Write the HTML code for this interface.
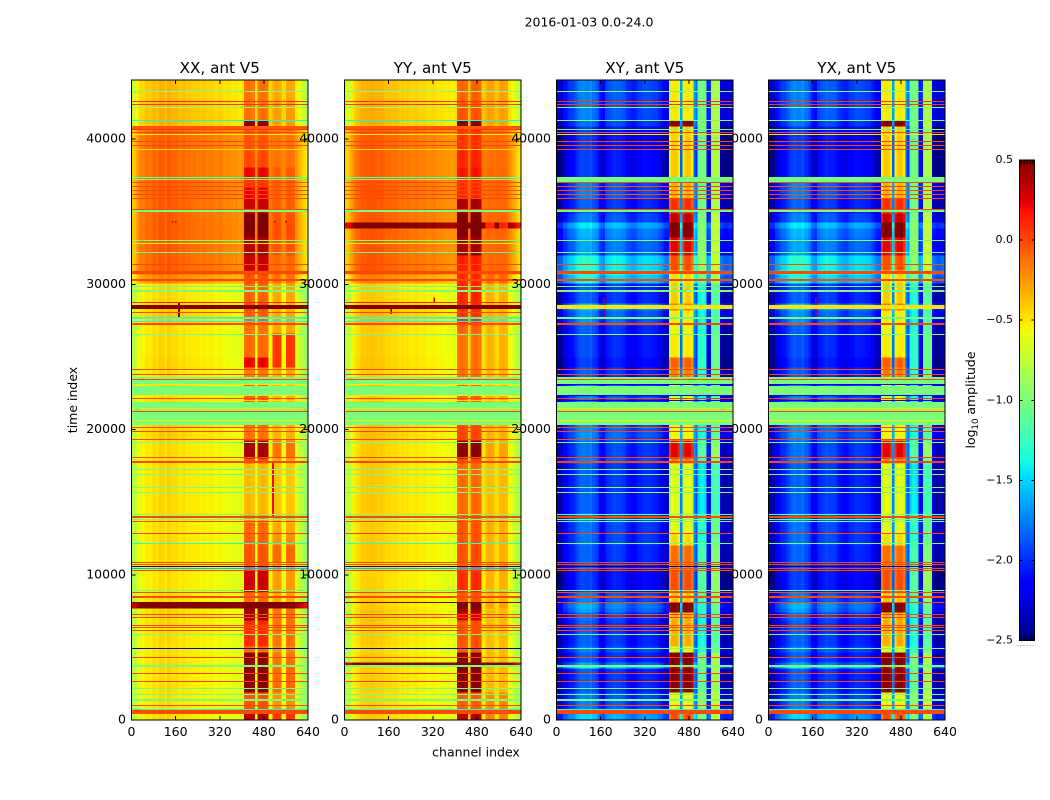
<!DOCTYPE html>
<html>
<head>
<meta charset="utf-8">
<title>2016-01-03 0.0-24.0 V5 waterfall</title>
<style>
html,body{margin:0;padding:0;background:#fff;}
svg{display:block;}
text{font-family:"DejaVu Sans","Liberation Sans",sans-serif;fill:#000;}
</style>
</head>
<body>
<svg id="chart" xmlns="http://www.w3.org/2000/svg" width="1050" height="800" viewBox="0 0 1050 800">
<rect width="1050" height="800" fill="#fff"></rect>
<text x="589" y="26.5" font-size="12.5" text-anchor="middle">2016-01-03 0.0-24.0</text>
<text x="476" y="756.5" font-size="12.5" text-anchor="middle">channel index</text>
<text transform="translate(77,400) rotate(-90)" font-size="12.5" text-anchor="middle">time index</text>
<text transform="translate(975,400) rotate(-90)" font-size="12.5" text-anchor="middle">log<tspan font-size="8.5" dy="3">10</tspan><tspan dy="-3"> amplitude</tspan></text>
</svg>
<script>
// ---- axis data ----
const xTicks = [0, 160, 320, 480, 640];
const yTicks = [0, 10000, 20000, 30000, 40000];
const cbarTicks = [0.5, 0, -0.5, -1, -1.5, -2, -2.5];
const cbarTickLabels = ["0.5", "0.0", "\u22120.5", "\u22121.0", "\u22121.5", "\u22122.0", "\u22122.5"];

// ---- channel categories (80 bins, 8 channels each); 0 quiet, 1 strong band, 2 side band ----
const channelZones = [
0,0,0,0,0,0,0,0,0,0,
0,0,0,0,0,0,0,0,0,0,
0,0,0,0,0,0,0,0,0,0,
0,0,0,0,0,0,0,0,0,0,
0,0,0,0,0,0,0,0,0,0,
0,1,1,1,1,1,0,1,1,1,
1,1,0,0,2,2,2,2,0,0,
2,2,2,2,0,0,0,0,0,0];

// ---- per-channel offsets in log10 amplitude ----
const xxChannelOffsets = [
-0.32,-0.3,-0.22,-0.12,-0.06,-0.1,-0.04,-0.02,-0.05,-0.01,
0.02,-0.03,0.03,0.04,0.04,-0.02,0.05,0.05,0.01,0,
0.02,-0.03,-0.02,0,-0.02,-0.04,-0.02,-0.05,-0.03,-0.05,
-0.05,-0.07,-0.04,-0.06,-0.08,-0.06,-0.05,-0.08,-0.1,-0.08,
-0.06,-0.1,-0.12,-0.1,-0.12,-0.12,-0.14,-0.12,-0.15,-0.15,
-0.12,0,0.03,0.03,0,-0.02,-0.1,0,0.03,0.04,
0.02,0,-0.1,-0.05,0,0.02,0.02,0,-0.1,-0.1,
0.02,0.03,0.02,0,-0.15,-0.2,-0.26,-0.32,-0.38,-0.45];
const yyChannelOffsets = [
-0.34,-0.32,-0.26,-0.16,-0.08,-0.04,-0.02,0.02,0.04,0.03,
0.05,0.04,0.06,0.05,0.03,0.02,0.04,0.03,0,-0.01,
0,-0.03,-0.02,-0.01,-0.04,-0.05,-0.03,-0.06,-0.04,-0.06,
-0.07,-0.08,-0.05,-0.07,-0.09,-0.08,-0.07,-0.1,-0.11,-0.09,
-0.08,-0.11,-0.13,-0.11,-0.13,-0.14,-0.15,-0.14,-0.16,-0.16,
-0.13,0,0.03,0.03,0,-0.02,-0.02,0,0.03,0.04,
0.02,0,-0.05,-0.05,0,0.02,0.02,0,-0.02,0,
0.02,0.03,0.02,0,-0.1,-0.15,-0.2,-0.28,-0.36,-0.42];
const xyChannelOffsets = [
-0.3,-0.3,-0.28,-0.1,-0.08,0,0.05,0.05,0.12,0.2,
0.25,0.28,0.28,0.25,0.25,0.3,0.22,0.2,0.15,-0.02,
-0.1,-0.12,0.05,0.1,0.12,0.15,0.18,0.15,0.15,0.15,
0.12,0.05,0,-0.02,-0.05,-0.05,0,0.05,0.05,0.1,
0.1,0.1,0.08,0.08,0.05,0.05,0,-0.05,-0.15,-0.2,
-0.2,-0.12,0.03,0.05,0.03,-0.1,0.35,-0.1,0.03,0.05,
0.03,-0.1,0.35,0.2,-0.05,0.03,0.03,-0.05,-0.1,0,
0.2,0.25,0.25,0.2,-0.2,-0.25,-0.3,-0.3,-0.25,-0.25];
const yxChannelOffsets = xyChannelOffsets;

// ---- time rows: start of each block (time index), 46 blocks ----
const rowStarts = [
0,689,1928,3581,3788,3994,4683,5096,6887,7438,
7713,8127,8815,10331,10881,12052,12879,13636,14256,17700,
18044,19284,20317,23554,24311,25000,26653,27204,28237,28719,
30096,30716,30992,32025,33264,33884,34297,34917,35950,36708,
37396,38085,39256,40909,41322,42699];
const timeMax = 44077;

// ---- block levels: quiet channels / strong band / side band ----
const xxQuietLevels = [
-0.48,-0.5,-0.49,-0.48,-0.48,-0.49,-0.5,-0.48,-0.46,-0.46,
0.6,-0.48,-0.5,-0.5,-0.48,-0.48,-0.49,-0.48,-0.48,-0.48,
-0.48,-0.44,-0.48,-0.48,-0.46,-0.48,-0.48,-0.42,-0.42,-0.48,
-0.22,-0.04,-0.08,-0.08,-0.07,-0.07,-0.08,-0.08,-0.07,-0.08,
-0.1,-0.1,-0.09,-0.36,-0.36,-0.38];
const xxCoreLevels = [
0.35,-0.05,0.45,0.4,0.4,0.45,-0.15,0.08,0.4,0.4,
0.5,-0.12,0.28,-0.1,-0.05,-0.1,-0.12,-0.25,-0.38,-0.05,
0.38,-0.15,-0.1,-0.18,0.2,-0.12,-0.15,-0.1,0,-0.1,
-0.05,0.1,0.3,0.35,0.5,0.5,0.5,0.3,0.2,0.05,
0.2,-0.02,-0.05,0.45,-0.15,-0.15];
const xxSideLevels = [
0.05,-0.25,-0.12,-0.15,-0.15,-0.15,-0.25,-0.15,-0.15,-0.15,
0.5,-0.32,-0.28,-0.32,-0.12,-0.25,-0.32,-0.36,-0.42,-0.32,
-0.15,-0.36,-0.36,-0.32,0.05,0.05,-0.32,-0.32,-0.36,-0.32,
-0.15,-0.1,-0.12,-0.05,-0.03,-0.03,-0.05,-0.08,-0.08,-0.08,
-0.08,-0.15,-0.15,-0.28,-0.28,-0.32];

const yyQuietLevels = [
-0.45,-0.48,-0.46,-0.45,0.6,-0.46,-0.48,-0.45,-0.43,-0.43,
-0.45,-0.45,-0.48,-0.48,-0.45,-0.45,-0.46,-0.45,-0.45,-0.45,
-0.45,-0.41,-0.45,-0.45,-0.43,-0.45,-0.45,-0.38,-0.38,-0.45,
-0.22,-0.04,-0.08,-0.08,-0.07,0.55,-0.08,-0.08,-0.07,-0.08,
-0.1,-0.1,-0.09,-0.36,-0.36,-0.38];
const yyCoreLevels = [
0.35,-0.08,0.45,0.5,0.5,0.45,-0.08,-0.05,0.25,0.42,
0.5,-0.05,0.08,-0.1,-0.03,-0.05,-0.05,-0.1,-0.12,0,
0.45,0,-0.1,-0.15,-0.15,-0.15,-0.1,0.05,0.08,0.1,
0.08,0.1,0.12,0.38,0.5,0.55,0.5,0.38,0.08,0.06,
0.15,0.1,0.06,0.45,-0.05,-0.1];
const yySideLevels = [
-0.2,-0.22,-0.38,-0.38,0.5,-0.38,-0.38,-0.38,-0.38,-0.38,
-0.3,-0.35,-0.35,-0.3,-0.35,-0.35,-0.35,-0.35,-0.38,-0.35,
-0.3,-0.35,-0.35,-0.35,-0.35,-0.35,-0.35,-0.35,-0.35,-0.35,
-0.12,-0.08,-0.12,-0.12,-0.1,0.1,-0.1,-0.12,-0.12,-0.12,
-0.12,-0.14,-0.14,-0.3,-0.3,-0.3];

const xyQuietLevels = [
-1.75,-2,-2.1,-1.6,-1.9,-2.1,-2,-2.1,-2.05,-1.9,
-1.85,-2,-2.2,-2.1,-2.1,-2.05,-2.05,-2,-2.1,-2,
-2.05,-1.95,-2,-2.1,-2.2,-2.15,-2.1,-1.95,-1.8,-2.1,
-1.6,-1.4,-1.55,-1.9,-1.85,-1.7,-2,-2.1,-2,-2,
-2.2,-2.2,-2.2,-2.05,-2,-2];
const xyCoreLevels = [
-0.05,-0.6,0.45,0.3,0.45,0.5,-0.65,-0.35,-0.35,0.5,
0.55,-0.4,-0.05,-0.2,-0.15,-0.5,-0.65,-0.65,-0.65,-0.2,
0.2,-0.6,-0.65,-0.2,-0.1,-0.55,-0.6,-0.55,-0.2,-0.45,
-0.5,-0.45,-0.05,0.2,0.5,0.5,0.3,0.05,-0.35,-0.35,
-0.45,-0.45,-0.45,0.5,-0.55,-0.55];
const xySideLevels = [
-1,-0.95,-1.1,-1.05,-1.05,-1.05,-1.3,-1.35,-1.35,-1.3,
-1.3,-1.15,-1.15,-1.2,-1.2,-1.3,-1.3,-1.35,-1.45,-1.25,
-1.15,-1.35,-1.4,-1.3,-1.3,-1.3,-1.35,-1.4,-1.3,-1.35,
-1.05,-1,-0.95,-0.95,-1,-0.95,-1,-1.05,-1.05,-1.1,
-1.05,-1.05,-1.1,-1,-1.05,-1.05];
const yxQuietLevels = xyQuietLevels;
const yxCoreLevels = xyCoreLevels;
const yxSideLevels = xySideLevels;

// ---- full-width flagged integrations (centre time, duration, level); null = not visible ----
const flagTimes = [
43271,42610,42403,42197,41274,40805,40633,40447,40337,39828,
39552,39256,37376,37190,37224,37031,36728,36453,36205,35929,
35172,35007,33037,32830,32210,31384,30833,30303,29841,29565,
28767,28443,28078,27665,27431,27321,27204,26515,24153,23760,
23560,23416,23278,23092,22693,22314,22155,21990,21591,21467,
21233,20936,20640,20475,20131,19882,19332,19125,18065,17782,
17266,16921,16026,15682,14167,13981,13822,13657,12858,12142,
10861,10675,10537,10399,10310,8932,8795,8437,8078,7231,
7073,6522,6336,6129,5902,4938,4318,3684,3216,2665,
2135,1742,1377,1012,737,551];
const flagDurations = [
85,85,85,85,100,205,85,100,85,85,
85,85,85,85,345,85,85,85,85,85,
85,170,85,85,85,85,240,140,85,140,
85,275,85,140,85,85,85,85,85,85,
140,85,275,70,620,70,85,85,620,85,
85,550,70,275,85,85,85,85,85,170,
85,85,85,85,85,140,85,85,85,85,
85,85,85,85,85,85,85,140,100,85,
85,85,85,85,85,85,85,140,85,85,
85,100,140,85,85,275];
const coFlagLevels = [
-0.95,0.05,0.05,-0.95,-1.35,-0.05,0.05,0,-0.5,0,
0,-0.45,-1,-1,null,0,0,0,0,0,
0,-1,-1,-0.5,-1,0,0,0,-1,-1,
0.1,0.5,0,-1.2,-1.4,0,0,-1,0,0,
-1,0,-1,-0.5,-1,-0.5,0,-0.5,-1,-0.5,
0,-1,-0.5,-1,0,0,0,-1,0,0,
-1,-1,-1,-1,-1,0,-1,0,0,-1.3,
0,0,-2.45,-1.6,0,-1,0,0,0.5,0,
0,0,0,0,-1,-2.4,0,-1,0,0,
-1,-1,-1,0,-1.3,0];
const crossFlagLevels = [
-0.95,0.05,0.05,-0.95,-1,null,-1,0,-0.5,0,
0,0,-1,-1,-1,0,0,0,0,0,
0,-1,-1,null,-1,0,0,0,-1,-1,
null,-0.5,null,-1,null,0,0,-1,0,0,
-1,0,-1,-2.2,-1,-2.2,0,-2.2,-1,-0.5,
0,-1,-0.5,-1,0,0,0,-1,0,0,
-1,-1,-1,-1,-1,0,-1,-1,0,-1,
0,0,-2.45,0,0,-1,0,0,0,0,
0,0,0,0,-1,-1,0,-1,0,0,
-1,-1,-1,0,-1.3,0];

// ---- isolated RFI spots: channel, start time, end time, level ----
const xxSpotChannels = [172, 513, 150, 160, 520, 560];
const xxSpotStarts = [27650, 14050, 34280, 34280, 34280, 34280];
const xxSpotEnds = [28800, 17700, 34360, 34360, 34360, 34360];
const xxSpotLevels = [0.5, 0.2, 0.3, 0.3, 0.3, 0.3];
const yySpotChannels = [170, 325];
const yySpotStarts = [27950, 28750];
const yySpotEnds = [28550, 29100];
const yySpotLevels = [0.5, 0.3];
const xySpotChannels = [171, 30, 51, 66, 278, 310, 381, 417, 519, 555, 626];
const xySpotStarts = [27690, 28310, 28310, 28310, 28310, 28310, 28310, 28310, 28310, 28310, 28310];
const xySpotEnds = [29060, 28580, 28580, 28580, 28580, 28580, 28580, 28580, 28580, 28580, 28580];
const xySpotLevels = [0.3, 0.4, 0.4, 0.4, 0.4, 0.4, 0.4, 0.4, 0.4, 0.4, 0.4];
const yxSpotChannels = xySpotChannels;
const yxSpotStarts = xySpotStarts;
const yxSpotEnds = xySpotEnds;
const yxSpotLevels = xySpotLevels;

const NS = "http://www.w3.org/2000/svg";
const svg = document.getElementById("chart");
const vMin = -2.5, vMax = 0.5;
const channelMax = 640, binWidth = 8;
const plotTop = 80, plotBottom = 720, plotWidth = 176.5;

function lerp(p, pts) {
  for (let i = 1; i < pts.length; i++) {
    if (p <= pts[i][0]) {
      const a = pts[i - 1], b = pts[i];
      return a[1] + (b[1] - a[1]) * (p - a[0]) / (b[0] - a[0]);
    }
  }
  return pts[pts.length - 1][1];
}
function jet(v) {
  const p = Math.max(0, Math.min(1, (v - vMin) / (vMax - vMin)));
  const r = lerp(p, [[0, 0], [0.35, 0], [0.66, 1], [0.89, 1], [1, 0.5]]);
  const g = lerp(p, [[0, 0], [0.125, 0], [0.375, 1], [0.64, 1], [0.91, 0], [1, 0]]);
  const b = lerp(p, [[0, 0.5], [0.11, 1], [0.34, 1], [0.65, 0], [1, 0]]);
  return "rgb(" + Math.round(r * 255) + "," + Math.round(g * 255) + "," + Math.round(b * 255) + ")";
}
function yScale(t) { return plotBottom - (t / timeMax) * (plotBottom - plotTop); }
function cbarScale(v) { return 160 + (vMax - v) / (vMax - vMin) * 480.5; }

function mk(tag, props, parent) {
  const el = document.createElementNS(NS, tag);
  for (const k in props) el.setAttribute(k, props[k]);
  parent.appendChild(el);
  return el;
}

function drawPanel(p) {
  const xScale = function (c) { return p.left + (c / channelMax) * plotWidth; };
  const g = mk("g", {}, svg);
  
  
  const heat = mk("g", { "shape-rendering": "crispEdges" }, g);
  
  

  const levelSets = [p.quiet, p.core, p.side];
  for (let r = 0; r < rowStarts.length; r++) {
    const t0 = rowStarts[r];
    const t1 = r + 1 < rowStarts.length ? rowStarts[r + 1] : timeMax;
    const y = yScale(t1), h = yScale(t0) - y + 0.4;
    for (let c = 0; c < channelZones.length; c++) {
      const x = xScale(c * binWidth);
      const w = xScale((c + 1) * binWidth) - x + 0.4;
      const v = levelSets[channelZones[c]][r] + p.offsets[c];
      const cell = mk("rect", { x: x.toFixed(2), y: y.toFixed(2), width: w.toFixed(2), height: h.toFixed(2), fill: jet(v) }, heat);
      
      
    }
  }
  for (let s = 0; s < p.spotChannels.length; s++) {
    const x = xScale(p.spotChannels[s] - 3);
    const y = yScale(p.spotEnds[s]);
    const spot = mk("rect", { x: x.toFixed(2), y: y.toFixed(2), width: (xScale(p.spotChannels[s] + 3) - x).toFixed(2), height: (yScale(p.spotStarts[s]) - y).toFixed(2), fill: jet(p.spotLevels[s]) }, heat);
    
    
  }
  for (let f = 0; f < flagTimes.length; f++) {
    const lvl = p.flags[f];
    if (lvl === null) continue;
    const yRaw = yScale(flagTimes[f] + flagDurations[f] / 2);
    const y = Math.round(yRaw);
    const h = Math.max(1, Math.round(flagDurations[f] / timeMax * (plotBottom - plotTop)));
    const flag = mk("rect", { x: xScale(0).toFixed(2), y: y, width: plotWidth, height: h, fill: jet(lvl) }, heat);
    
    
  }

  const axes = mk("g", { stroke: "#000", "stroke-width": 1, "shape-rendering": "crispEdges" }, g);
  
  
  xTicks.forEach(function (t) {
    const x = xScale(t);
    const a = mk("line", { x1: x, x2: x, y1: plotBottom, y2: plotBottom - 4 }, axes);
    
    
    const b = mk("line", { x1: x, x2: x, y1: plotTop, y2: plotTop + 4 }, axes);
    
    
  });
  yTicks.forEach(function (t) {
    const y = yScale(t);
    const a = mk("line", { x1: p.left, x2: p.left + 4, y1: y, y2: y }, axes);
    
    
    const b = mk("line", { x1: p.left + plotWidth, x2: p.left + plotWidth - 4, y1: y, y2: y }, axes);
    
    
  });
  const frame = mk("rect", { x: p.left, y: plotTop, width: plotWidth, height: plotBottom - plotTop, fill: "none" }, axes);
  
  

  xTicks.forEach(function (t) {
    const lab = mk("text", { x: xScale(t), y: 736, "font-size": 12.5, "text-anchor": "middle" }, g);
    lab.textContent = String(t);
    
    
  });
  yTicks.forEach(function (t) {
    const lab = mk("text", { x: p.left - 5.5, y: yScale(t) + 3.5, "font-size": 12.5, "text-anchor": "end" }, g);
    lab.textContent = String(t);
    
    
  });
  const title = mk("text", { x: p.left + plotWidth / 2, y: 73, "font-size": 15.2, "text-anchor": "middle" }, g);
  title.textContent = p.title;
  
  
}

// draw order keeps the XY panel above the YX tick labels, as in the figure
[
  { key: "xx", title: "XX, ant V5", left: 131.5, offsets: xxChannelOffsets, quiet: xxQuietLevels, core: xxCoreLevels, side: xxSideLevels, flags: coFlagLevels, spotChannels: xxSpotChannels, spotStarts: xxSpotStarts, spotEnds: xxSpotEnds, spotLevels: xxSpotLevels },
  { key: "yy", title: "YY, ant V5", left: 344.5, offsets: yyChannelOffsets, quiet: yyQuietLevels, core: yyCoreLevels, side: yySideLevels, flags: coFlagLevels, spotChannels: yySpotChannels, spotStarts: yySpotStarts, spotEnds: yySpotEnds, spotLevels: yySpotLevels },
  { key: "yx", title: "YX, ant V5", left: 768.5, offsets: yxChannelOffsets, quiet: yxQuietLevels, core: yxCoreLevels, side: yxSideLevels, flags: crossFlagLevels, spotChannels: yxSpotChannels, spotStarts: yxSpotStarts, spotEnds: yxSpotEnds, spotLevels: yxSpotLevels },
  { key: "xy", title: "XY, ant V5", left: 556.5, offsets: xyChannelOffsets, quiet: xyQuietLevels, core: xyCoreLevels, side: xySideLevels, flags: crossFlagLevels, spotChannels: xySpotChannels, spotStarts: xySpotStarts, spotEnds: xySpotEnds, spotLevels: xySpotLevels }
].forEach(drawPanel);

// colorbar
const cb = mk("g", { "shape-rendering": "crispEdges" }, svg);


const cbLeft = 1019.5, cbWidth = 15;
const cbSteps = 160;
for (let k = 0; k < cbSteps; k++) {
  const v1 = vMax - k * (vMax - vMin) / cbSteps;
  const v0 = vMax - (k + 1) * (vMax - vMin) / cbSteps;
  const y = cbarScale(v1);
  const seg = mk("rect", { x: cbLeft, y: y.toFixed(2), width: cbWidth, height: (cbarScale(v0) - y + 0.4).toFixed(2), fill: jet((v0 + v1) / 2) }, cb);
  
  
}
const denseTop = mk("line", { x1: cbLeft + 1, x2: cbLeft + cbWidth, y1: 162, y2: 162, stroke: "#000", "stroke-width": 4, "stroke-dasharray": "1 2" }, cb);


const denseBottom = mk("line", { x1: cbLeft + 1, x2: cbLeft + cbWidth, y1: 638, y2: 638, stroke: "#000", "stroke-width": 4, "stroke-dasharray": "1 2" }, cb);


const dots = mk("line", { x1: cbLeft - 2, x2: cbLeft + cbWidth, y1: 645.5, y2: 645.5, stroke: "#888", "stroke-width": 1, "stroke-dasharray": "1 2" }, cb);


cbarTicks.forEach(function (v, i) {
  const y = cbarScale(v);
  const a = mk("line", { x1: cbLeft, x2: cbLeft + 3, y1: y, y2: y, stroke: "#000" }, cb);
  
  
  const b = mk("line", { x1: cbLeft + cbWidth, x2: cbLeft + cbWidth - 3, y1: y, y2: y, stroke: "#000" }, cb);
  
  
  const lab = mk("text", { x: 1013, y: y + 3, "font-size": 11, "text-anchor": "end" }, cb);
  lab.textContent = cbarTickLabels[i];
  
  
});
const cbFrame = mk("rect", { x: cbLeft, y: 160, width: cbWidth, height: 480.5, fill: "none", stroke: "#000" }, cb);


</script>
</body>
</html>
